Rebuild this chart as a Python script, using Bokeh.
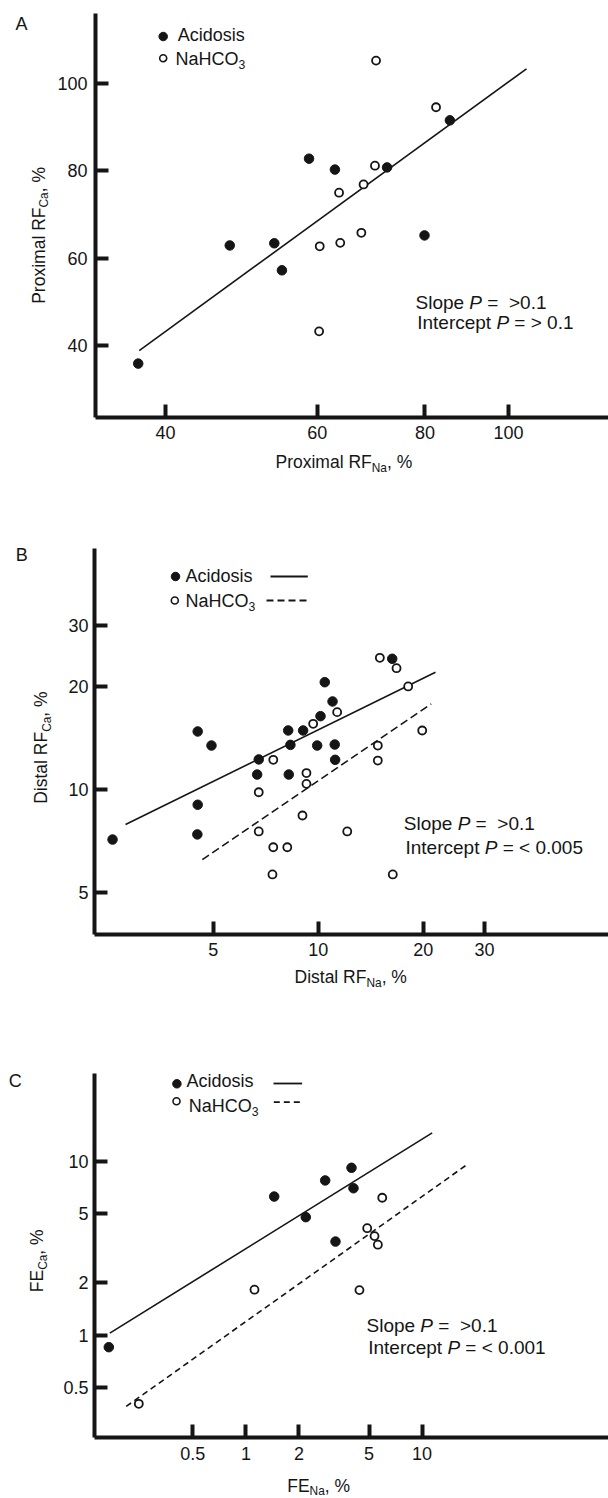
import math
from bokeh.plotting import figure
from bokeh.layouts import column
from bokeh.models import FixedTicker, CustomJSTickFormatter, Label, Range1d
from bokeh.embed import file_html
from bokeh.resources import INLINE

# ---------------- data ----------------
# Panel A: proximal fractional reabsorption
a_acid_na = [58.7, 62.9, 72.3, 85.5, 79.9, 47.5, 53.5, 54.6, 37.2]
a_acid_ca = [82.8, 80.3, 80.8, 91.6, 65.2, 62.9, 63.4, 57.2, 35.8]
a_bic_na = [70.2, 82.4, 70.0, 67.9, 63.6, 67.5, 63.8, 60.4, 60.3]
a_bic_ca = [105.3, 94.6, 81.2, 76.9, 75.0, 65.8, 63.5, 62.7, 43.2]
a_fit_na = [37.3, 104.9]
a_fit_ca = [38.8, 103.4]
a_xticks = [40, 60, 80, 100]
a_yticks = [40, 60, 80, 100]

# Panel B: distal fractional reabsorption
b_acid_na = [4.51, 4.94, 6.75, 6.68, 8.20, 8.32, 8.23, 9.05, 9.93, 10.15, 10.44, 10.99,
             11.15, 11.18, 16.30, 4.51, 4.50, 2.57]
b_acid_ca = [14.74, 13.41, 12.21, 11.03, 14.84, 13.47, 11.03, 14.84, 13.41, 16.34, 20.54, 18.04,
             13.50, 12.18, 24.05, 9.00, 7.37, 7.12]
b_bic_na = [15.02, 16.77, 18.11, 11.33, 9.67, 7.43, 14.82, 14.82, 19.87, 9.25, 9.25, 6.75,
            9.01, 6.75, 7.43, 8.15, 12.11, 7.39, 16.36]
b_bic_ca = [24.21, 22.57, 19.96, 16.79, 15.52, 12.18, 13.41, 12.12, 14.84, 11.14, 10.36, 9.79,
            8.37, 7.52, 6.76, 6.76, 7.52, 5.63, 5.63]
b_fit_acid_na = [2.80, 21.69]
b_fit_acid_ca = [7.88, 21.97]
b_fit_bic_na = [4.65, 21.09]
b_fit_bic_ca = [6.22, 17.76]
b_xticks = [5, 10, 20, 30]
b_yticks = [5, 10, 20, 30]

# Panel C: fractional excretion
c_acid_na = [1.448, 2.819, 3.975, 4.08, 2.188, 3.225, 0.1668]
c_acid_ca = [6.28, 7.77, 9.19, 7.01, 4.78, 3.46, 0.855]
c_bic_na = [5.94, 4.88, 5.37, 5.61, 1.119, 4.41, 0.2468]
c_bic_ca = [6.18, 4.13, 3.72, 3.32, 1.83, 1.82, 0.404]
c_fit_acid_na = [0.169, 11.41]
c_fit_acid_ca = [1.029, 14.60]
c_fit_bic_na = [0.2093, 18.03]
c_fit_bic_ca = [0.39, 9.60]
c_xticks = [0.5, 1, 2, 5, 10]
c_yticks = [0.5, 1, 2, 5, 10]

# ---------------- styling helpers ----------------
FONT = "Liberation Sans"
INK = "#151515"
W = 608
ADV = {' ': 278, ',': 278, '.': 278, '%': 889, '=': 584, '<': 584, '>': 584,
       'A': 667, 'C': 722, 'D': 722, 'E': 667, 'F': 611, 'H': 722, 'I': 278, 'N': 722,
       'O': 778, 'P': 667, 'R': 722, 'S': 667, 'a': 556, 'c': 500, 'd': 556, 'e': 556,
       'i': 222, 'l': 222, 'm': 833, 'n': 556, 'o': 556, 'p': 556, 'r': 333, 's': 500,
       't': 278, 'x': 500}


def text_width(s, size):
    return sum(ADV.get(c, 556) for c in s) * size / 1000.0


# a scale: (is_log, pixel anchor, value anchor (ln if log), pixels per unit)
def val(sc, px):
    is_log, p0, f0, k = sc
    f = f0 + (px - p0) / k
    return math.exp(f) if is_log else f


def make_fig(top, height, sx, sy, ax_px, ax_py, top_py, xticks, yticks, xstand, ystand):
    p = figure(width=W, height=height,
               x_axis_type="log" if sx[0] else "linear",
               y_axis_type="log" if sy[0] else "linear",
               x_range=Range1d(val(sx, 0), val(sx, W)),
               y_range=Range1d(val(sy, top + height), val(sy, top)),
               output_backend="svg", toolbar_location=None,
               min_border_left=0, min_border_right=0, min_border_top=0, min_border_bottom=0)
    p.outline_line_color = None
    p.xgrid.visible = False
    p.ygrid.visible = False
    p.background_fill_color = "white"
    p.border_fill_color = "white"
    xa, ya = p.xaxis[0], p.yaxis[0]
    xa.fixed_location = val(sy, ax_py)
    xa.bounds = (val(sx, ax_px), val(sx, W))
    ya.fixed_location = val(sx, ax_px)
    ya.bounds = (val(sy, ax_py), val(sy, top_py))
    for ax, ticks, stand in ((xa, xticks, xstand), (ya, yticks, ystand)):
        ax.ticker = FixedTicker(ticks=ticks, minor_ticks=[])
        ax.formatter = CustomJSTickFormatter(code="return String(tick)")
        ax.axis_line_width = 4
        ax.axis_line_color = INK
        ax.major_tick_line_width = 4
        ax.major_tick_line_color = INK
        ax.major_tick_in = 13
        ax.major_tick_out = 0
        ax.minor_tick_line_color = None
        ax.major_label_text_font = FONT
        ax.major_label_text_font_size = "18px"
        ax.major_label_text_color = INK
        ax.major_label_standoff = stand
    return p, dict(sx=sx, sy=sy)


def put(p, g, px, py, text, size, style="normal", align="left", angle=0):
    p.add_layout(Label(x=val(g["sx"], px), y=val(g["sy"], py), x_units="data", y_units="data",
                       text=text, text_font=FONT, text_font_size=f"{size}px",
                       text_font_style=style, text_color=INK, text_align=align,
                       text_baseline="middle", angle=angle, angle_units="deg"))


def put_runs(p, g, x0, y0, runs, size, vertical=False):
    pos = 0.0
    for text, kind in runs:
        s = round(size * 0.68, 1) if kind == "sub" else size
        style = "italic" if kind == "i" else "normal"
        lead = len(text) - len(text.lstrip(" "))
        body = text.strip(" ")
        off = pos + text_width(" " * lead, s)
        shift = 0.32 * size if kind == "sub" else 0.0
        if body:
            if vertical:
                put(p, g, x0 + shift, y0 - off, body, s, style, angle=90)
            else:
                put(p, g, x0 + off, y0 + shift, body, s, style)
        pos += text_width(text, s)


def legend_marker(p, g, px, py, filled):
    x, y = val(g["sx"], px), val(g["sy"], py)
    if filled:
        p.scatter([x], [y], marker="circle", size=8.5, fill_color=INK, line_color=INK)
    else:
        p.scatter([x], [y], marker="circle", size=7, fill_color="white",
                  line_color=INK, line_width=1.6)


def legend_line(p, g, x1, x2, py, dash):
    y = val(g["sy"], py)
    p.line([val(g["sx"], x1), val(g["sx"], x2)], [y, y],
           line_color=INK, line_width=1.8, line_dash=dash)


def points(p, xs, ys, filled):
    if filled:
        p.scatter(xs, ys, marker="circle", size=9.5, fill_color=INK, line_color=INK)
    else:
        p.scatter(xs, ys, marker="circle", size=8, fill_color="white",
                  line_color=INK, line_width=1.8)


TITLE = 17.5
STAT = 19
LEG = 18

# ---------------- Panel A ----------------
pa, ga = make_fig(0, 480, (True, 353.5, 4.1925, 374.5), (False, 214.0, 70.0, -4.36),
                  95, 417, 13, a_xticks, a_yticks, 8, 8)
pa.line(a_fit_na, a_fit_ca, line_color=INK, line_width=1.6)
points(pa, a_acid_na, a_acid_ca, True)
points(pa, a_bic_na, a_bic_ca, False)
put(pa, ga, 21, 23, "A", 18, align="center")
legend_marker(pa, ga, 162.7, 36, True)
put(pa, ga, 177.3, 34, "Acidosis", LEG)
legend_marker(pa, ga, 162.7, 57.7, False)
put_runs(pa, ga, 175, 58, [("NaHCO", "n"), ("3", "sub")], LEG)
put_runs(pa, ga, 415, 301.7, [("Slope ", "n"), ("P", "i"), (" =  ", "n"), (">0.1", "n")], STAT)
put_runs(pa, ga, 416.7, 321.7, [("Intercept ", "n"), ("P", "i"), (" = ", "n"), ("> 0.1", "n")], STAT)
put_runs(pa, ga, 275, 461.7, [("Proximal RF", "n"), ("Na", "sub"), (", %", "n")], TITLE)
put_runs(pa, ga, 38.3, 303.3, [("Proximal RF", "n"), ("Ca", "sub"), (", %", "n")], TITLE, vertical=True)

# ---------------- Panel B ----------------
pb, gb = make_fig(480, 510, (True, 359.3, 2.577, 151.4), (True, 747.85, 2.577, -148.5),
                  94, 934, 548, b_xticks, b_yticks, 8, 6)
pb.line(b_fit_acid_na, b_fit_acid_ca, line_color=INK, line_width=1.6)
pb.line(b_fit_bic_na, b_fit_bic_ca, line_color=INK, line_width=1.6, line_dash="8 4")
points(pb, b_acid_na, b_acid_ca, True)
points(pb, b_bic_na, b_bic_ca, False)
put(pb, gb, 21.3, 554, "B", 18, align="center")
legend_marker(pb, gb, 175, 576, True)
put(pb, gb, 185, 575, "Acidosis", LEG)
legend_line(pb, gb, 270, 307.3, 576, "solid")
legend_marker(pb, gb, 174.3, 600, False)
put_runs(pb, gb, 185, 600, [("NaHCO", "n"), ("3", "sub")], LEG)
legend_line(pb, gb, 266, 309.3, 600, "7 4")
put_runs(pb, gb, 403.3, 823.3, [("Slope ", "n"), ("P", "i"), (" =  ", "n"), (">0.1", "n")], STAT)
put_runs(pb, gb, 405, 846.7, [("Intercept ", "n"), ("P", "i"), (" = ", "n"), ("< 0.005", "n")], STAT)
put_runs(pb, gb, 294, 976.7, [("Distal RF", "n"), ("Na", "sub"), (", %", "n")], TITLE)
put_runs(pb, gb, 40.7, 803.3, [("Distal RF", "n"), ("Ca", "sub"), (", %", "n")], TITLE, vertical=True)

# ---------------- Panel C ----------------
pc, gc = make_fig(990, 508, (True, 305.26, 0.7824, 76.53), (True, 1275.74, 0.7824, -75.54),
                  94, 1437, 1073, c_xticks, c_yticks, 9, 6)
pc.line(c_fit_acid_na, c_fit_acid_ca, line_color=INK, line_width=1.6)
pc.line(c_fit_bic_na, c_fit_bic_ca, line_color=INK, line_width=1.6, line_dash="6 4")
points(pc, c_acid_na, c_acid_ca, True)
points(pc, c_bic_na, c_bic_ca, False)
put(pc, gc, 14.7, 1080, "C", 18, align="center")
legend_marker(pc, gc, 176.4, 1083.3, True)
put(pc, gc, 186, 1080, "Acidosis", LEG)
legend_line(pc, gc, 273, 301.6, 1083, "solid")
legend_marker(pc, gc, 176, 1100.7, False)
put_runs(pc, gc, 188.3, 1105, [("NaHCO", "n"), ("3", "sub")], LEG)
legend_line(pc, gc, 273.3, 303.3, 1101.7, "6 4")
put_runs(pc, gc, 366, 1325, [("Slope ", "n"), ("P", "i"), (" =  ", "n"), (">0.1", "n")], STAT)
put_runs(pc, gc, 367.7, 1346.7, [("Intercept ", "n"), ("P", "i"), (" = ", "n"), ("< 0.001", "n")], STAT)
put_runs(pc, gc, 286.7, 1485, [("FE", "n"), ("Na", "sub"), (", %", "n")], TITLE)
put_runs(pc, gc, 36.8, 1291.7, [("FE", "n"), ("Ca", "sub"), (", %", "n")], TITLE, vertical=True)

layout = column(pa, pb, pc, spacing=0)
open("out.html", "w").write(file_html(layout, INLINE))
